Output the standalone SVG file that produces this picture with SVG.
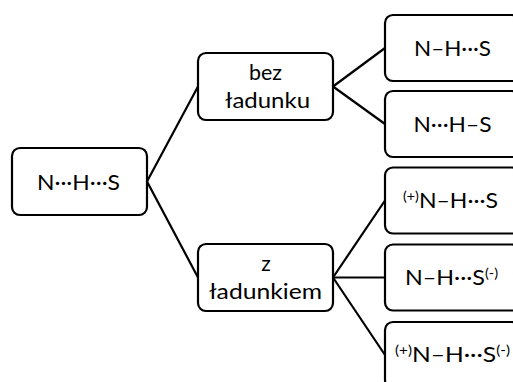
<svg xmlns="http://www.w3.org/2000/svg" width="513" height="382" viewBox="0 0 513 382">
<style>
.box{fill:#fff;stroke:#000;stroke-width:2.2}
.t{font-family:Lato,"Open Sans","Liberation Sans",sans-serif;font-size:21px;fill:#000;text-anchor:middle}
.sup{font-size:13px}
.c{stroke:#000;stroke-width:2.2;fill:none}
</style>
<rect width="513" height="382" fill="#fff"/>
<g id="connectors">
<line class="c" x1="147" y1="181.5" x2="198" y2="86.5"/>
<line class="c" x1="147" y1="181.5" x2="198" y2="277.5"/>
<line class="c" x1="333" y1="86.5" x2="385" y2="48"/>
<line class="c" x1="333" y1="86.5" x2="385" y2="124"/>
<line class="c" x1="333" y1="277.5" x2="385" y2="200.5"/>
<line class="c" x1="333" y1="277.5" x2="385" y2="277.5"/>
<line class="c" x1="333" y1="277.5" x2="385" y2="355"/>
</g>
<g id="root">
<rect class="box" x="12" y="148" width="135" height="67" rx="8"/>
<text class="t" x="78.5" y="189.5" textLength="83" lengthAdjust="spacingAndGlyphs">N···H···S</text>
</g>
<g id="bez">
<rect class="box" x="198" y="53" width="135" height="67" rx="8"/>
<text class="t" x="265.5" y="79.5" textLength="33" lengthAdjust="spacingAndGlyphs">bez</text>
<text class="t" x="267.5" y="107.5" textLength="85" lengthAdjust="spacingAndGlyphs">ładunku</text>
</g>
<g id="z">
<rect class="box" x="198" y="244" width="135" height="67" rx="8"/>
<text class="t" x="266" y="270.5">z</text>
<text class="t" x="265.5" y="298.5" textLength="113" lengthAdjust="spacingAndGlyphs">ładunkiem</text>
</g>
<g id="r1">
<rect class="box" x="385" y="15" width="135" height="66" rx="8"/>
<text class="t" x="452.5" y="55.5" textLength="77" lengthAdjust="spacingAndGlyphs">N–H···S</text>
</g>
<g id="r2">
<rect class="box" x="385" y="91" width="135" height="66" rx="8"/>
<text class="t" x="452.5" y="131.5" textLength="78" lengthAdjust="spacingAndGlyphs">N···H–S</text>
</g>
<g id="r3">
<rect class="box" x="385" y="167.5" width="135" height="66" rx="8"/>
<text class="t" x="450.5" y="208" textLength="95" lengthAdjust="spacingAndGlyphs"><tspan class="sup" dy="-7">(+)</tspan><tspan dy="7">N–H···S</tspan></text>
</g>
<g id="r4">
<rect class="box" x="385" y="244.5" width="135" height="66" rx="8"/>
<text class="t" x="451.5" y="285" textLength="93" lengthAdjust="spacingAndGlyphs">N–H···S<tspan class="sup" dy="-7">(-)</tspan></text>
</g>
<g id="r5">
<rect class="box" x="385" y="322" width="135" height="66" rx="8"/>
<text class="t" x="452.5" y="362" textLength="115" lengthAdjust="spacingAndGlyphs"><tspan class="sup" dy="-7">(+)</tspan><tspan dy="7">N–H···S</tspan><tspan class="sup" dy="-7">(-)</tspan></text>
</g>
</svg>
